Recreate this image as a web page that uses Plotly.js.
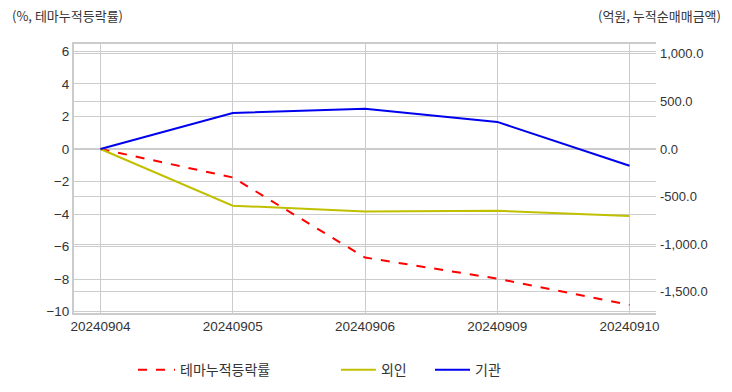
<!DOCTYPE html>
<html>
<head>
<meta charset="utf-8">
<script src="https://cdn.plot.ly/plotly-3.0.1.min.js"></script>
<style>html,body{margin:0;padding:0;background:#fff;}#chart{width:732px;height:392px;}</style>
</head>
<body>
<div id="chart"></div>
<script>
const dates = ["20240904", "20240905", "20240906", "20240909", "20240910"];
const themeReturn = [0, -1.75, -6.67, -7.97, -9.58];
const foreign = [0, -595, -655, -648, -704];
const institution = [0, 378, 423, 285, -175];
const leftTicks = [-10, -8, -6, -4, -2, 0, 2, 4, 6];
const rightTicks = [-1500, -1000, -500, 0, 500, 1000];
const rightTickLabels = ["-1,500.0", "-1,000.0", "-500.0", "0.0", "500.0", "1,000.0"];

const font = "'Liberation Sans', 'Noto Sans CJK KR', sans-serif";
const kfont = "'Noto Sans CJK KR', 'Liberation Sans', sans-serif";
const traces = [
  {x: dates, y: themeReturn, name: "테마누적등락률", type: "scatter", mode: "lines",
   line: {color: "#ff0000", width: 2, dash: "dash"}, yaxis: "y", legend: "legend"},
  {x: dates, y: foreign, name: "외인", type: "scatter", mode: "lines",
   line: {color: "#c0c000", width: 2}, yaxis: "y2", legend: "legend2"},
  {x: dates, y: institution, name: "기관", type: "scatter", mode: "lines",
   line: {color: "#0000ee", width: 2}, yaxis: "y2", legend: "legend3"}
];
const legFont = {family: kfont, size: 14, color: "#333"};
const layout = {
  width: 732, height: 392,
  margin: {l: 74, r: 76, t: 44, b: 79, autoexpand: false},
  paper_bgcolor: "#fff", plot_bgcolor: "#fff",
  font: {family: font, size: 13, color: "#333"},
  showlegend: true,
  legend: {orientation: "h", x: 0.1014, xanchor: "left", y: -0.212, yanchor: "middle", font: legFont, bgcolor: "rgba(0,0,0,0)", itemwidth: 37},
  legend2: {orientation: "h", x: 0.450, xanchor: "left", y: -0.212, yanchor: "middle", font: legFont, bgcolor: "rgba(0,0,0,0)", itemwidth: 35},
  legend3: {orientation: "h", x: 0.6117, xanchor: "left", y: -0.212, yanchor: "middle", font: legFont, bgcolor: "rgba(0,0,0,0)", itemwidth: 35},
  xaxis: {type: "category", range: [-0.2, 4.2], showgrid: true, gridcolor: "#cccccc", gridwidth: 1,
          showline: true, linecolor: "#cccccc", linewidth: 2, mirror: true, ticks: "",
          tickfont: {family: font, size: 13.5, color: "#333"}, zeroline: false},
  yaxis: {range: [-10.08, 6.45], tickvals: leftTicks, showgrid: true, gridcolor: "#cccccc",
          showline: true, linecolor: "#cccccc", linewidth: 2, zeroline: false, ticks: "",
          tickfont: {family: font, size: 13.5, color: "#333"}},
  yaxis2: {overlaying: "y", side: "right", range: [-1722, 1103], tickvals: rightTicks,
           ticktext: rightTickLabels, showgrid: true, gridcolor: "#cccccc", zeroline: false,
           showline: false, ticks: "", ticklabelstandoff: 3, tickfont: {family: font, size: 13, color: "#333"}},
  annotations: [
    {text: "(%, 테마누적등락률)", xref: "paper", yref: "paper", x: -0.110, y: 1.105,
     xanchor: "left", yanchor: "middle", showarrow: false, font: {family: kfont, size: 13, color: "#333"}},
    {text: "(억원, 누적순매매금액)", xref: "paper", yref: "paper", x: 1.1155, y: 1.105,
     xanchor: "right", yanchor: "middle", showarrow: false, font: {family: kfont, size: 13, color: "#333"}}
  ]
};
Plotly.newPlot("chart", traces, layout, {displayModeBar: false, staticPlot: true});
</script>
</body>
</html>
